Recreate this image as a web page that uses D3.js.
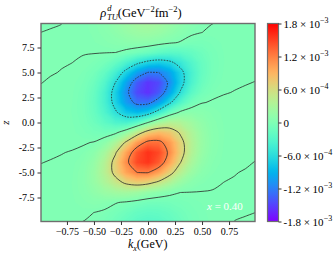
<!DOCTYPE html>
<html>
<head>
<meta charset="utf-8">
<script src="https://cdn.jsdelivr.net/npm/d3@7"></script>
<style>
  body { margin: 0; background: #fff; }
  text { font-family: "Liberation Serif", "DejaVu Serif", serif; }
</style>
</head>
<body>
<svg id="chart" width="335" height="258"></svg>
<script>
// grid of the density, units of 1e-4 GeV^-2 fm^-2
const kxGrid = [-1.0, -0.9, -0.8, -0.7, -0.6, -0.5, -0.4, -0.3, -0.2, -0.1, 0, 0.1, 0.2, 0.3, 0.4, 0.5, 0.6, 0.7, 0.8, 0.9, 1.0];
const zGrid = [10, 9, 8, 7, 6, 5, 4, 3, 2, 1, 0, -1, -2, -3, -4, -5, -6, -7, -8, -9, -10];
const rho = [
  [-0.01, -0.008, -0.002, 0.026, 0.13, 0.34, 0.72, 1.33, 2.03, 2.62, 2.85, 2.53, 1.84, 1.12, 0.51, 0.16, 0.014, -0.013, -0.038, -0.059, -0.082],
  [-0.0003, 0.005, 0.01, 0.023, 0.10, 0.26, 0.56, 1.0, 1.52, 1.94, 2.05, 1.76, 1.17, 0.62, 0.19, 0.001, -0.10, -0.08, -0.077, -0.085, -0.098],
  [0.01, 0.01, 0.012, 0.017, 0.07, 0.18, 0.34, 0.56, 0.78, 0.9, 0.83, 0.54, 0.19, -0.08, -0.43, -0.53, -0.33, -0.147, -0.107, -0.099, -0.099],
  [0.013, 0.011, 0.009, 0.009, 0.018, 0.03, 0.03, 0.001, -0.33, -0.81, -1.36, -2.13, -2.53, -2.36, -1.85, -1.14, -0.53, -0.198, -0.12, -0.097, -0.087],
  [0.012, 0.008, 0.009, 0.001, -0.045, -0.24, -0.75, -1.82, -3.5, -5.39, -6.8, -7.34, -6.58, -4.94, -3.15, -1.62, -0.65, -0.207, -0.11, -0.079, -0.065],
  [0.008, 0.008, -0.005, -0.048, -0.225, -0.75, -1.95, -4.07, -7.06, -10.1, -12.1, -12.0, -9.99, -6.88, -3.88, -1.73, -0.61, -0.176, -0.083, -0.051, -0.033],
  [0.005, -0.014, -0.04, -0.11, -0.41, -1.24, -3.03, -6.06, -10.0, -13.8, -15.6, -14.7, -11.3, -7.14, -3.65, -1.46, -0.455, -0.11, -0.041, -0.012, 0.0065],
  [-0.019, -0.045, -0.076, -0.164, -0.56, -1.62, -3.77, -7.2, -11.3, -14.7, -15.8, -14.0, -9.97, -5.74, -2.6, -0.875, -0.20, -0.02, 0.011, 0.029, 0.049],
  [-0.051, -0.073, -0.105, -0.20, -0.65, -1.74, -3.84, -6.99, -10.5, -12.8, -12.8, -10.3, -6.53, -3.11, -0.92, -0.05, 0.09, 0.066, 0.058, 0.065, 0.079],
  [-0.08, -0.095, -0.12, -0.21, -0.62, -1.6, -3.33, -5.63, -7.75, -8.6, -7.4, -4.49, -1.42, 0.39, 0.85, 0.67, 0.33, 0.137, 0.092, 0.089, 0.097],
  [-0.098, -0.10, -0.115, -0.184, -0.51, -1.22, -2.31, -3.4, -3.73, -2.44, 0, 2.44, 3.73, 3.4, 2.31, 1.22, 0.51, 0.184, 0.115, 0.10, 0.098],
  [-0.097, -0.089, -0.092, -0.137, -0.33, -0.67, -0.85, -0.39, 1.42, 4.49, 7.4, 8.6, 7.75, 5.63, 3.33, 1.6, 0.62, 0.21, 0.12, 0.095, 0.08],
  [-0.079, -0.065, -0.058, -0.066, -0.09, 0.05, 0.92, 3.11, 6.53, 10.3, 12.8, 12.8, 10.5, 6.99, 3.84, 1.74, 0.65, 0.20, 0.105, 0.073, 0.051],
  [-0.049, -0.029, -0.011, 0.02, 0.20, 0.875, 2.6, 5.74, 9.97, 14.0, 15.8, 14.7, 11.3, 7.2, 3.77, 1.62, 0.56, 0.164, 0.076, 0.045, 0.019],
  [-0.0065, 0.012, 0.041, 0.11, 0.455, 1.46, 3.65, 7.14, 11.3, 14.7, 15.6, 13.8, 10.0, 6.06, 3.03, 1.24, 0.41, 0.11, 0.04, 0.014, -0.005],
  [0.033, 0.051, 0.083, 0.176, 0.61, 1.73, 3.88, 6.88, 9.99, 12.0, 12.1, 10.1, 7.06, 4.07, 1.95, 0.75, 0.225, 0.048, 0.005, -0.008, -0.008],
  [0.065, 0.079, 0.11, 0.207, 0.65, 1.62, 3.15, 4.94, 6.58, 7.34, 6.8, 5.39, 3.5, 1.82, 0.75, 0.24, 0.045, -0.001, -0.009, -0.008, -0.012],
  [0.087, 0.097, 0.12, 0.198, 0.53, 1.14, 1.85, 2.36, 2.53, 2.13, 1.36, 0.81, 0.33, -0.001, -0.03, -0.03, -0.018, -0.009, -0.009, -0.011, -0.013],
  [0.099, 0.099, 0.107, 0.147, 0.33, 0.53, 0.43, 0.08, -0.19, -0.54, -0.83, -0.9, -0.78, -0.56, -0.34, -0.18, -0.07, -0.017, -0.012, -0.01, -0.01],
  [0.098, 0.085, 0.077, 0.08, 0.10, -0.001, -0.19, -0.62, -1.17, -1.76, -2.05, -1.94, -1.52, -1.0, -0.56, -0.26, -0.10, -0.023, -0.01, -0.005, 0.0003],
  [0.082, 0.059, 0.038, 0.013, -0.014, -0.16, -0.51, -1.12, -1.84, -2.53, -2.85, -2.62, -2.03, -1.33, -0.72, -0.34, -0.13, -0.026, 0.002, 0.008, 0.01]
];
const lineLevels = [-12, -6, 0, 6, 12];

const xTicks = [-0.75, -0.5, -0.25, 0, 0.25, 0.5, 0.75];
const yTicks = [-7.5, -5, -2.5, 0, 2.5, 5, 7.5];
const cbTicks = [1.8e-3, 1.2e-3, 6e-4, 0, -6e-4, -1.2e-3, -1.8e-3];
const cbMant = ["1.8", "1.2", "6.0", "0", "-6.0", "-1.2", "-1.8"];
const cbExp = ["\u22123", "\u22123", "\u22124", "", "\u22124", "\u22123", "\u22123"];

const pLeft = 41, pRight = 255, pTop = 23.5, pBottom = 221.5;
const svg = d3.select("#chart");

const x = d3.scaleLinear().domain([-0.99, 0.99]).range([pLeft, pRight]);
const y = d3.scaleLinear().domain([-9.9, 9.9]).range([pBottom, pTop]);

// matplotlib "rainbow"
function rainbow(t) {
    t = Math.max(0, Math.min(1, t));
    const r = Math.min(1, Math.abs(2 * t - 0.5));
    const g = Math.sin(Math.PI * t);
    const b = Math.cos(Math.PI * t / 2);
    return d3.rgb(r * 255, g * 255, b * 255).toString();
}
const color = d3.scaleSequential(rainbow).domain([-18, 18]);

const nx = kxGrid.length, nz = zGrid.length;
const values = rho.flat();
// contour grid coords -> data coords
const gx = d3.scaleLinear().domain([0.5, nx - 0.5]).range([kxGrid[0], kxGrid[nx - 1]]);
const gz = d3.scaleLinear().domain([0.5, nz - 0.5]).range([zGrid[0], zGrid[nz - 1]]);
const proj = d3.geoTransform({
    point: function(px, py) { this.stream.point(x(gx(px)), y(gz(py))); }
});
const path = d3.geoPath(proj);

const defs = svg.append("defs");
defs.append("clipPath").attr("id", "plotclip")
    .append("rect").attr("x", pLeft).attr("y", pTop)
    .attr("width", pRight - pLeft).attr("height", pBottom - pTop);

const plot = svg.append("g").attr("clip-path", "url(#plotclip)");
plot.append("rect").attr("x", pLeft).attr("y", pTop)
    .attr("width", pRight - pLeft).attr("height", pBottom - pTop)
    .attr("fill", color(0));

const step = 0.2;
const bands = d3.contours().size([nx, nz]).thresholds(d3.range(-18, 18.001, step))(values);
plot.selectAll("path.band")
    .data(bands)
    .join("path")
    .attr("class", "band")
    .attr("d", path)
    .attr("fill", d => color(d.value + step / 2));

// contour lines, split where they hit the grid border, smoothed
function onEdge(p) { return p[0] <= 0 || p[0] >= nx || p[1] <= 0 || p[1] >= nz; }
function pieces(ring) {
    const pts = ring.slice(0, -1);
    const k = pts.findIndex(onEdge);
    if (k < 0) return [{ pts: pts, closed: true }];
    const out = [];
    let cur = [];
    for (let i = 1; i <= pts.length; i++) {
        const p = pts[(k + i) % pts.length];
        if (onEdge(p)) {
            if (cur.length > 1) out.push({ pts: cur, closed: false });
            cur = [];
        } else cur.push(p);
    }
    return out;
}
const lineGen = d3.line().x(p => x(gx(p[0]))).y(p => y(gz(p[1])));

lineLevels.forEach(lv => {
    const mp = d3.contours().size([nx, nz]).thresholds([lv])(values)[0];
    mp.coordinates.forEach(poly => poly.forEach(ring => {
        pieces(ring).forEach(pc => {
            lineGen.curve(pc.closed ? d3.curveCatmullRomClosed : d3.curveCatmullRom);
            plot.append("path")
                .attr("d", lineGen(pc.pts))
                .attr("fill", "none")
                .attr("stroke", "#2a2a2a")
                .attr("stroke-width", 0.8)
                .attr("stroke-dasharray", lv < 0 ? "1.6,1.2" : null);
        });
    }));
});

// annotation
const ann = svg.append("text").attr("x", 207).attr("y", 209.5)
    .attr("font-size", 11).attr("fill", "#fff");
ann.append("tspan").attr("font-style", "italic").text("x");
ann.append("tspan").text(" = 0.40");

// frame
svg.append("rect").attr("x", pLeft).attr("y", pTop)
    .attr("width", pRight - pLeft).attr("height", pBottom - pTop)
    .attr("fill", "none").attr("stroke", "#6e6e6e").attr("stroke-width", 1.4);

// axes
const xAxis = d3.axisBottom(x).tickValues(xTicks).tickFormat(d3.format(".2f")).tickSize(3.5).tickPadding(3);
const yAxis = d3.axisLeft(y).tickValues(yTicks).tickFormat(d => d.toFixed(1)).tickSize(3.5).tickPadding(3);

const gxAxis = svg.append("g").attr("transform", "translate(0," + pBottom + ")").call(xAxis);
const gyAxis = svg.append("g").attr("transform", "translate(" + pLeft + ",0)").call(yAxis);
[gxAxis, gyAxis].forEach(g => {
    g.select(".domain").remove();
    g.selectAll("line").attr("stroke", "#333");
    g.selectAll("text").attr("font-size", 10).attr("fill", "#000");
});

// axis titles
const xl = svg.append("text").attr("x", 147.7).attr("y", 248).attr("text-anchor", "middle").attr("font-size", 12);
xl.append("tspan").attr("font-style", "italic").text("k");
xl.append("tspan").attr("font-style", "italic").attr("font-size", 8).attr("dy", 2.5).text("x");
xl.append("tspan").attr("dy", -2.5).text("(GeV)");

svg.append("text").attr("transform", "translate(9,122.5) rotate(-90)")
    .attr("text-anchor", "middle").attr("font-size", 11).attr("font-style", "italic").text("z");

// title
const tt = svg.append("text").attr("x", 141).attr("y", 17).attr("text-anchor", "middle").attr("font-size", 12.5);
tt.append("tspan").attr("font-style", "italic").text("\u03c1");
tt.append("tspan").attr("font-style", "italic").attr("font-size", 8.5).attr("dy", -6).attr("dx", 1).text("d");
tt.append("tspan").attr("font-style", "italic").attr("font-size", 8.5).attr("dy", 9).attr("dx", -4.5).text("TU");
tt.append("tspan").attr("dy", -3).text("(GeV");
tt.append("tspan").attr("font-size", 8.5).attr("dy", -5).text("\u22122");
tt.append("tspan").attr("dy", 5).text("fm");
tt.append("tspan").attr("font-size", 8.5).attr("dy", -5).text("\u22122");
tt.append("tspan").attr("dy", 5).text(")");

// colorbar
const cbX = 267.5, cbW = 11;
const cb = d3.scaleLinear().domain([-1.8e-3, 1.8e-3]).range([pBottom, pTop]);
const grad = defs.append("linearGradient").attr("id", "cbgrad")
    .attr("x1", 0).attr("y1", 1).attr("x2", 0).attr("y2", 0);
grad.selectAll("stop").data(d3.range(0, 1.0001, 0.02)).join("stop")
    .attr("offset", d => d).attr("stop-color", d => rainbow(d));
svg.append("rect").attr("x", cbX).attr("y", pTop).attr("width", cbW).attr("height", pBottom - pTop)
    .attr("fill", "url(#cbgrad)").attr("stroke", "#6e6e6e").attr("stroke-width", 1.2);

const cbAxis = d3.axisRight(cb).tickValues(cbTicks).tickSize(3).tickPadding(2).tickFormat("");
const gcb = svg.append("g").attr("transform", "translate(" + (cbX + cbW) + ",0)").call(cbAxis);
gcb.select(".domain").remove();
gcb.selectAll("line").attr("stroke", "#333");
gcb.selectAll(".tick text").each(function(d, i) {
    const t = d3.select(this).attr("font-size", 11).attr("fill", "#000").attr("x", 5);
    t.append("tspan").text(cbMant[i] + (cbExp[i] ? " \u00d7 10" : ""));
    if (cbExp[i]) t.append("tspan").attr("font-size", 8).attr("dy", -5).text(cbExp[i]);
});
</script>
</body>
</html>
